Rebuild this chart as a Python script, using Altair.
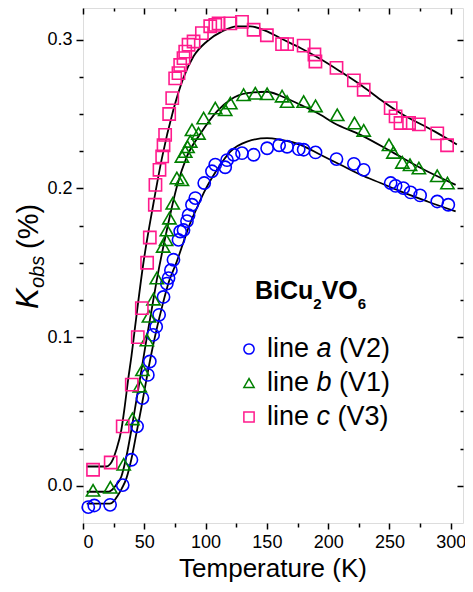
import altair as alt
import pandas as pd

FONT = "Liberation Sans"

# ---------------- data ----------------
a_T = [4.3, 9.2, 22.1, 32.4, 39.5, 44.1, 48.5, 52.9, 54.5, 57.2, 59.7, 62.1, 65.7, 68.4, 69.8, 71.7,
       73.8, 77.9, 79.3, 82.0, 84.8, 86.1, 88.9, 91.6, 98.9, 105.2, 107.9, 116.0, 117.5, 122.9, 129.7,
       139.2, 150.2, 160.0, 166.5, 176.0, 180.0, 189.7, 206.8, 221.0, 229.0, 251.0, 255.0, 261.3,
       267.3, 275.0, 289.0, 298.0]
a_K = [-0.0143, -0.0132, -0.0128, 0.0005, 0.0175, 0.040, 0.059, 0.0746, 0.0836, 0.1015, 0.107, 0.115,
       0.127, 0.136, 0.1397, 0.145, 0.152, 0.1654, 0.171, 0.172, 0.178, 0.182, 0.189, 0.1935, 0.2036,
       0.2115, 0.216, 0.2142, 0.219, 0.2226, 0.2237, 0.2226, 0.227, 0.229, 0.228, 0.2264, 0.226,
       0.2242, 0.2197, 0.2165, 0.2125, 0.2036, 0.2017, 0.2002, 0.1973, 0.1953, 0.1912, 0.189]

b_T = [8.2, 22.3, 33.2, 40.3, 46.3, 48.5, 52.1, 53.8, 57.5, 60.2, 65.4, 67.8, 68.4, 70.5, 73.2, 76.6,
       80.7, 80.7, 83.4, 85.3, 87.5, 88.9, 94.2, 98.4, 107.9, 116.0, 120.2, 131.0, 140.6, 150.2, 162.4,
       166.5, 180.0, 189.7, 207.4, 221.5, 229.0, 249.6, 253.2, 260.5, 266.8, 274.0, 289.0, 297.3]
b_K = [-0.003, -0.001, 0.0145, 0.045, 0.067, 0.078, 0.098, 0.114, 0.1255, 0.1397, 0.161, 0.1654, 0.172,
       0.18, 0.190, 0.207, 0.2058, 0.2215, 0.2248, 0.228, 0.2316, 0.2394, 0.237, 0.2473, 0.254, 0.2529,
       0.2574, 0.263, 0.264, 0.2636, 0.262, 0.2584, 0.2584, 0.2555, 0.2495, 0.244, 0.239, 0.2293,
       0.2242, 0.2175, 0.2159, 0.2137, 0.2085, 0.2036]

c_T = [8.2, 22.6, 32.4, 39.8, 44.7, 48.0, 52.3, 54.5, 58.6, 59.1, 62.4, 64.6, 65.7, 67.0, 70.3, 72.8,
       75.2, 77.9, 79.3, 82.0, 83.4, 86.1, 90.2, 97.0, 103.8, 107.9, 110.6, 120.2, 129.7, 139.2, 150.0,
       162.4, 166.5, 180.0, 188.8, 189.6, 206.8, 221.0, 229.0, 251.0, 255.0, 259.0, 266.0, 274.0,
       289.0, 297.0]
c_K = [0.0108, 0.0157, 0.040, 0.068, 0.100, 0.1195, 0.150, 0.167, 0.189, 0.2024, 0.2125, 0.2215, 0.229,
       0.236, 0.250, 0.2607, 0.274, 0.2775, 0.283, 0.2876, 0.292, 0.2966, 0.2988, 0.3044, 0.309, 0.310,
       0.311, 0.311, 0.312, 0.3067, 0.303, 0.297, 0.297, 0.296, 0.290, 0.2853, 0.281, 0.2726, 0.2663,
       0.254, 0.2484, 0.244, 0.244, 0.243, 0.237, 0.229]

fit_a_T = [3, 22, 25, 28, 31.5, 35.4, 39.5, 43.6, 47.7, 51.7, 55.8, 60, 65, 70, 76.6, 82, 87.5, 93, 98.4,
           109.3, 120.2, 133.8, 150.2, 161, 177.4, 193.7, 210, 226.4, 242.8, 259.1, 281, 304]
fit_a_K = [-0.012, -0.012, -0.0105, -0.007, -0.002, 0.005, 0.018, 0.0354, 0.053, 0.0713, 0.089, 0.105,
           0.122, 0.137, 0.151, 0.164, 0.1767, 0.187, 0.1968, 0.2125, 0.2248, 0.2315, 0.2338, 0.2327,
           0.2293, 0.2226, 0.2159, 0.2092, 0.2036, 0.198, 0.1912, 0.1845]

fit_b_T = [3, 21, 24, 27, 31.3, 35.4, 39.5, 43.6, 47.7, 51.7, 55.5, 60.2, 68.4, 76.6, 84.8, 96, 109.3,
           120.2, 133.8, 150.2, 161, 177.4, 193.7, 204.6, 226.4, 253.7, 275.5, 304]
fit_b_K = [-0.004, -0.004, -0.0025, 0.0005, 0.0063, 0.0197, 0.0377, 0.0578, 0.078, 0.098, 0.116, 0.1385,
           0.172, 0.2013, 0.2215, 0.237, 0.2518, 0.2596, 0.264, 0.265, 0.2623, 0.2562, 0.2495, 0.244,
           0.236, 0.2237, 0.2137, 0.2024]

fit_c_T = [3, 19, 22, 24.5, 27.2, 31.3, 34, 36.8, 39.5, 42.2, 49.3, 57.5, 64.3, 73.8, 82, 90.2, 101,
           113.4, 125.6, 136.5, 150.2, 161, 177.4, 193.7, 210, 226.4, 242.8, 259.1, 286.4, 305]
fit_c_K = [0.013, 0.013, 0.0145, 0.018, 0.0242, 0.0377, 0.053, 0.0713, 0.087, 0.105, 0.150, 0.190,
           0.220, 0.253, 0.2745, 0.2888, 0.2988, 0.3056, 0.309, 0.309, 0.3056, 0.301, 0.2944, 0.287,
           0.2786, 0.2697, 0.2596, 0.2505, 0.2385, 0.2295]

series_labels = ["a", "b", "c"]
series_tags = ["(V2)", "(V1)", "(V3)"]
colors = ["#0000FF", "#008000", "#FF1A8C"]
shapes = ["circle", "triangle-up", "square"]
sizes = [150, 175, 150]
x_ticks = list(range(0, 301, 25))
y_ticks = [round(i * 0.025, 3) for i in range(0, 13)]

# ---------------- layout ----------------
W, H = 380, 515
xs = alt.Scale(domain=[0, 310], nice=False, zero=False)
ys = alt.Scale(domain=[-0.025, 0.3213], nice=False, zero=False)

AX = dict(labelFont=FONT, labelFontSize=18, labelColor="black", tickColor="black",
          tickWidth=1.5, domain=False, grid=False, title=None)

x_main = alt.Axis(orient="bottom", values=x_ticks, labelPadding=4,
                  labelExpr="datum.value % 50 === 0 ? datum.label : ''",
                  tickSize={"condition": {"test": "datum.value % 50 === 0", "value": 6}, "value": 4},
                  **AX)
y_main = alt.Axis(orient="left", values=y_ticks, format=".1f", labelPadding=4,
                  labelExpr="round(datum.value * 40) % 4 === 0 ? datum.label : ''",
                  tickSize={"condition": {"test": "round(datum.value * 40) % 4 === 0", "value": 7}, "value": 4},
                  **AX)


def inner_axes(vals_x, vals_y, size):
    common = dict(labels=False, tickSize=size, offset=-size, tickColor="black", tickWidth=1.5,
                  domain=False, grid=False, title=None)
    return (alt.Axis(orient="top", values=vals_x, **common),
            alt.Axis(orient="right", values=vals_y, **common))


fits = pd.concat([
    pd.DataFrame({"T": fit_a_T, "K": fit_a_K, "fit": "a"}),
    pd.DataFrame({"T": fit_b_T, "K": fit_b_K, "fit": "b"}),
    pd.DataFrame({"T": fit_c_T, "K": fit_c_K, "fit": "c"}),
])

layers = []

# fit curves carry the main (bottom / left) axes
layers.append(
    alt.Chart(fits).mark_line(color="black", strokeWidth=1.8, interpolate="monotone").encode(
        x=alt.X("T:Q", scale=xs, axis=x_main),
        y=alt.Y("K:Q", scale=ys, axis=y_main),
        detail="fit:N",
    )
)

# inward ticks on top / right
tx, ty = inner_axes([v for v in x_ticks if v % 50 == 0], [v for v in y_ticks if round(v * 40) % 4 == 0], 6)
layers.append(alt.Chart(fits).mark_point(opacity=0).encode(
    x=alt.X("T:Q", scale=xs, axis=tx), y=alt.Y("K:Q", scale=ys, axis=ty)))
tx2, ty2 = inner_axes([v for v in x_ticks if v % 50 != 0], [v for v in y_ticks if round(v * 40) % 4 != 0], 3)
layers.append(alt.Chart(fits).mark_point(opacity=0).encode(
    x=alt.X("T:Q", scale=xs, axis=tx2), y=alt.Y("K:Q", scale=ys, axis=ty2)))

# data points
for T, K, col, shp, sz in [(a_T, a_K, colors[0], shapes[0], sizes[0]),
                            (b_T, b_K, colors[1], shapes[1], sizes[1]),
                            (c_T, c_K, colors[2], shapes[2], sizes[2])]:
    layers.append(
        alt.Chart(pd.DataFrame({"T": T, "K": K})).mark_point(
            shape=shp, filled=False, color=col, size=sz, strokeWidth=1.6, opacity=1
        ).encode(x=alt.X("T:Q", scale=xs, axis=None), y=alt.Y("K:Q", scale=ys, axis=None))
    )


def txt(s, x, y, size, style="normal", weight="normal", angle=0, align="left", baseline="alphabetic"):
    return alt.Chart(alt.Data(values=[{}])).mark_text(
        text=s, font=FONT, fontSize=size, fontStyle=style, fontWeight=weight, angle=angle,
        align=align, baseline=baseline, color="black"
    ).encode(x=alt.value(x), y=alt.value(y))


# x-axis title
layers.append(txt("Temperature (K)", 190, 569, 26, align="center"))

# y-axis title: K_obs (%)
layers.append(txt("K", -45, 301, 31, style="italic", angle=270))
layers.append(txt("obs", -39, 280, 20, style="italic", angle=270))
layers.append(txt("(%)", -45, 241, 29, angle=270))

# compound label BiCu2VO6
bx, by, big, small = 172, 291, 25, 15
w_bicu = (0.722 + 0.278 + 0.722 + 0.611) * big
w_sub = 0.556 * small
w_vo = (0.667 + 0.778) * big
layers.append(txt("BiCu", bx, by, big, weight="bold"))
layers.append(txt("2", bx + w_bicu, by + 10, small, weight="bold"))
layers.append(txt("VO", bx + w_bicu + w_sub, by, big, weight="bold"))
layers.append(txt("6", bx + w_bicu + w_sub + w_vo, by + 10, small, weight="bold"))

# hand-made legend
fs = 27
italic_w = {"a": 0.556, "b": 0.556, "c": 0.5}
for i, (lab, tag, col, shp) in enumerate(zip(series_labels, series_tags, colors, shapes)):
    yb = 349 + 34 * i
    layers.append(
        alt.Chart(alt.Data(values=[{}])).mark_point(
            shape=shp, filled=False, color=col, size=105, strokeWidth=1.5, opacity=1
        ).encode(x=alt.value(166), y=alt.value(yb - 8))
    )
    x0 = 184
    layers.append(txt("line", x0, yb, fs))
    x1 = x0 + (0.222 + 0.222 + 0.556 + 0.556 + 0.278) * fs
    layers.append(txt(lab, x1, yb, fs, style="italic"))
    x2 = x1 + italic_w[lab] * fs + 0.278 * fs
    layers.append(txt(tag, x2, yb, fs))

chart = alt.layer(*layers).resolve_axis(x="independent", y="independent").properties(
    width=W, height=H,
    autosize=alt.AutoSizeParams(type="none"),
    padding={"left": 75, "top": 0, "right": 2, "bottom": 61},
).configure_view(stroke="black", strokeWidth=2).configure(background="white")

chart.save("out.html", embed_options={"renderer": "svg", "actions": False})
